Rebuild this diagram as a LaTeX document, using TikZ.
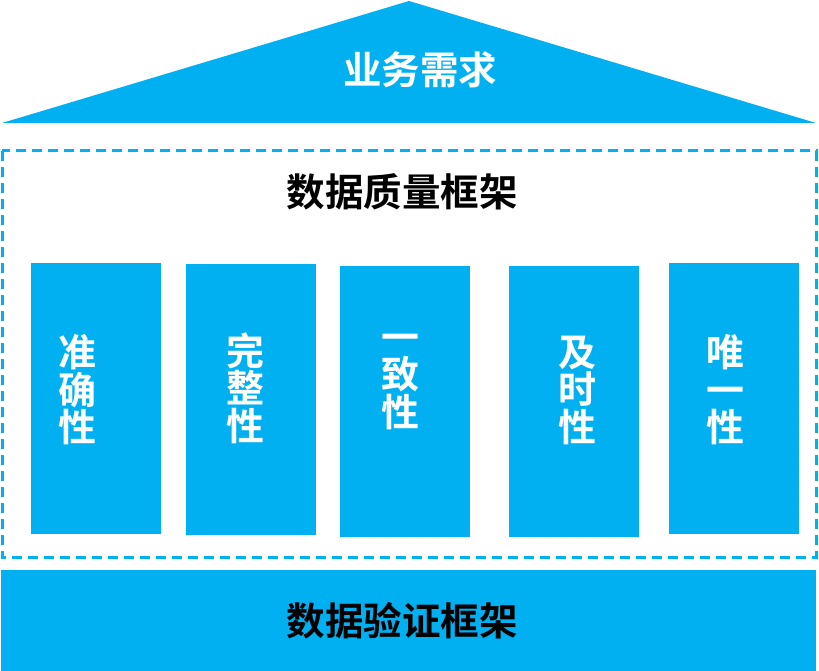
\documentclass[tikz,border=0pt]{standalone}
\usepackage{fontspec}
\setmainfont{Noto Sans CJK SC Bold}
\usepackage{tikz}
\usetikzlibrary{positioning}

\definecolor{skyblue}{RGB}{0,176,240}

\begin{document}
\begin{tikzpicture}[x=1pt, y=-1pt]
\useasboundingbox (0,0) rectangle (819,671);
\tikzset{
    pillar/.style={fill=skyblue, minimum width=130pt, minimum height=271pt, inner sep=0pt},
    pillartext/.style={text=white, align=center, inner sep=0pt, font=\fontsize{38}{37.5}\selectfont},
    title/.style={inner sep=0pt, font=\fontsize{38.5}{40}\selectfont}
}
% roof
\fill[skyblue] (2,123) -- (409,1) -- (816,123) -- cycle;
\node[title, text=white] (roof) at (420,70) {业务需求};
% frame
\draw[skyblue, line width=3pt, dash pattern=on 10pt off 6pt] (2,151) rectangle (816,557);
\node[title] (frame) at (402,192) {数据质量框架};
% pillars
\begin{scope}
    \node[pillar] (p1) at (96,398.5) {};
    \node[pillar] (p2) at (251,399) {};
    \node[pillar] (p3) at (405,401) {};
    \node[pillar] (p4) at (574,401) {};
    \node[pillar] (p5) at (734,398.5) {};
\end{scope}
\begin{scope}[every node/.style={pillartext}]
    \node (t1) at (77,390) {准\\确\\性};
    \node (t2) at (245,388) {完\\整\\性};
    \node (t3) at (400,382) {一\\致\\性};
    \node (t4) at (577,390) {及\\时\\性};
    \node (t5) at (725,390) {唯\\一\\性};
\end{scope}
% base
\node[fill=skyblue, minimum width=815pt, minimum height=101pt, inner sep=0pt] (base) at (408.5,620.5) {};
\node[title] (basetext) at (402,621) {数据验证框架};
\end{tikzpicture}
\end{document}
